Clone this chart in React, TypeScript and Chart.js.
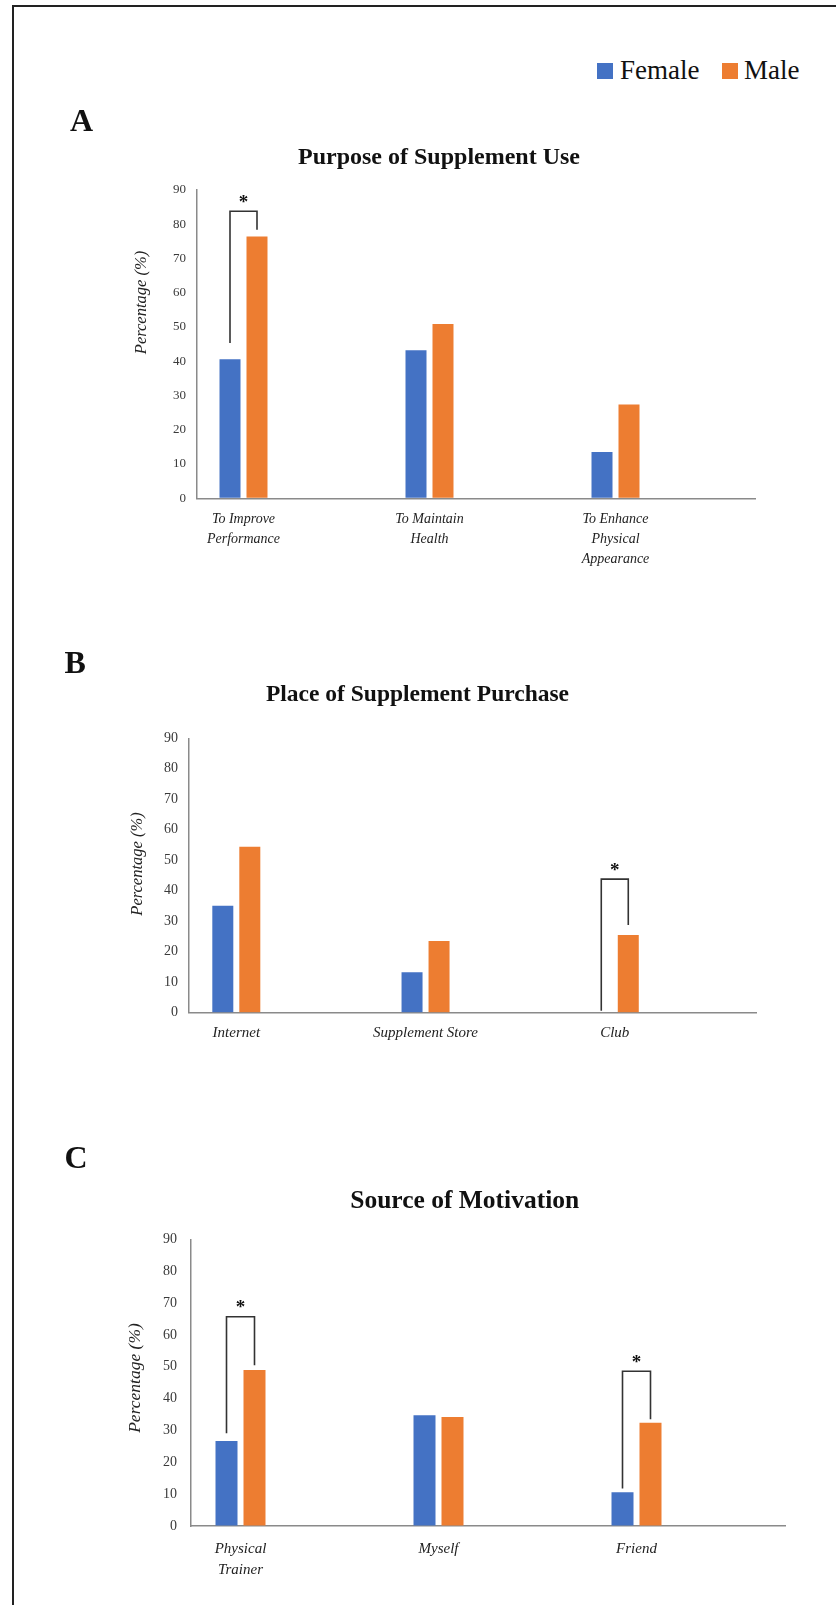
import React, { useEffect, useRef } from 'react';
import { Chart, registerables } from 'chart.js';

Chart.register(...registerables);

const seriesNames = ['Female', 'Male'];
const seriesColors = ['#4472C4', '#ED7D31'];

const purposeLabels: (string | string[])[] = [['To Improve', 'Performance'], ['To Maintain', 'Health'], ['To Enhance', 'Physical', 'Appearance']];
const purposeFemale = [40.6, 43.2, 13.5];
const purposeMale = [76.4, 50.9, 27.4];
const purposeSig = [{ index: 0, top: 83.8, femaleEnd: 45.3, maleEnd: 78.4 }];

const placeLabels: (string | string[])[] = ['Internet', 'Supplement Store', 'Club'];
const placeFemale = [35.1, 13.3, 0];
const placeMale = [54.4, 23.5, 25.5];
const placeSig = [{ index: 2, top: 43.8, femaleEnd: 0.6, maleEnd: 28.8 }];

const motivationLabels: (string | string[])[] = [['Physical', 'Trainer'], 'Myself', 'Friend'];
const motivationFemale = [26.7, 34.8, 10.6];
const motivationMale = [49.0, 34.2, 32.4];
const motivationSig = [
  { index: 0, top: 65.7, femaleEnd: 29.1, maleEnd: 50.5 },
  { index: 2, top: 48.6, femaleEnd: 11.8, maleEnd: 33.5 },
];

const yMin = 0;
const yMax = 90;
const yStep = 10;
const yAxisTitle = 'Percentage (%)';

const SERIF = '"Liberation Serif", "Times New Roman", serif';

type Sig = { index: number; top: number; femaleEnd: number; maleEnd: number };
type PanelProps = {
  top: number;
  height: number;
  labels: (string | string[])[];
  female: number[];
  male: number[];
  sig: Sig[];
  title: string;
  titleSize: number;
  titleX: number;
  titleY: number;
  yTitleX: number;
  yTitleY: number;
  yTitleSize: number;
  padTop: number;
  padRight: number;
  yWidth: number;
  xHeight: number;
  yTickSize: number;
  yTickPad: number;
  xTickSize: number;
  xTickPad: number;
  xLineHeight: number;
  catPct: number;
  barPct: number;
};

function Panel(p: PanelProps) {
  const ref = useRef<HTMLCanvasElement | null>(null);
  useEffect(() => {
    if (!ref.current) return;
    const decor = {
      id: 'decor',
      afterDatasetsDraw(chart: any) {
        const ctx = chart.ctx as CanvasRenderingContext2D;
        const ys = chart.scales.y;
        ctx.save();
        ctx.fillStyle = '#111';
        ctx.textAlign = 'center';
        ctx.textBaseline = 'alphabetic';
        ctx.font = `bold ${p.titleSize}px ${SERIF}`;
        ctx.fillText(p.title, p.titleX, p.titleY);

        ctx.save();
        ctx.translate(p.yTitleX, p.yTitleY);
        ctx.rotate(-Math.PI / 2);
        ctx.font = `italic ${p.yTitleSize}px ${SERIF}`;
        ctx.textBaseline = 'middle';
        ctx.fillStyle = '#222';
        ctx.fillText(yAxisTitle, 0, 0);
        ctx.restore();

        const m0 = chart.getDatasetMeta(0);
        const m1 = chart.getDatasetMeta(1);
        for (const s of p.sig) {
          const xl = m0.data[s.index].x;
          const xr = m1.data[s.index].x;
          const yt = ys.getPixelForValue(s.top);
          const yl = ys.getPixelForValue(s.femaleEnd);
          const yr = ys.getPixelForValue(s.maleEnd);
          ctx.strokeStyle = '#333';
          ctx.lineWidth = 1.6;
          ctx.beginPath();
          ctx.moveTo(xl, yl);
          ctx.lineTo(xl, yt);
          ctx.lineTo(xr, yt);
          ctx.lineTo(xr, yr);
          ctx.stroke();
          ctx.font = `bold 19px ${SERIF}`;
          ctx.fillStyle = '#111';
          ctx.textAlign = 'center';
          ctx.textBaseline = 'alphabetic';
          ctx.fillText('*', (xl + xr) / 2, yt - 3.5);
        }
        ctx.restore();
      },
    };

    const chart = new Chart(ref.current, {
      type: 'bar',
      data: {
        datasets: [
          {
            label: seriesNames[0],
            data: p.female.map((v, i) => ({ x: i, y: v })),
            backgroundColor: seriesColors[0],
            borderWidth: 0,
            categoryPercentage: p.catPct,
            barPercentage: p.barPct,
          },
          {
            label: seriesNames[1],
            data: p.male.map((v, i) => ({ x: i, y: v })),
            backgroundColor: seriesColors[1],
            borderWidth: 0,
            categoryPercentage: p.catPct,
            barPercentage: p.barPct,
          },
        ],
      },
      options: {
        animation: false,
        responsive: false,
        maintainAspectRatio: false,
        layout: { padding: { top: p.padTop, right: p.padRight, left: 0, bottom: 0 } },
        plugins: {
          legend: { display: false },
          tooltip: { enabled: false },
          title: { display: false },
        },
        scales: {
          x: {
            type: 'linear',
            min: -0.25,
            max: 2.75,
            bounds: 'data',
            offset: false,
            grid: { display: true, color: 'rgba(0,0,0,0)', drawTicks: false, offset: false },
            border: { display: true, color: '#8a8a8a', width: 1.5 },
            afterBuildTicks: (scale: any) => {
              scale.ticks = p.labels.map((_, i) => ({ value: i }));
            },
            afterFit: (scale: any) => {
              scale.height = p.xHeight;
            },
            ticks: {
              autoSkip: false,
              maxRotation: 0,
              minRotation: 0,
              padding: p.xTickPad,
              color: '#222',
              font: { family: SERIF, size: p.xTickSize, style: 'italic', lineHeight: p.xLineHeight },
              callback: (value: any) => p.labels[Math.round(Number(value))] as any,
            },
          },
          y: {
            type: 'linear',
            min: yMin,
            max: yMax,
            grid: { display: true, color: 'rgba(0,0,0,0)', drawTicks: false },
            border: { display: true, color: '#8a8a8a', width: 1.5 },
            afterFit: (scale: any) => {
              scale.width = p.yWidth;
            },
            ticks: {
              stepSize: yStep,
              padding: p.yTickPad,
              color: '#3a3a3a',
              font: { family: SERIF, size: p.yTickSize },
            },
          },
        },
      } as any,
      plugins: [decor],
    });
    return () => chart.destroy();
  }, []);
  return (
    <canvas
      ref={ref}
      width={836}
      height={p.height}
      style={{ position: 'absolute', left: 0, top: p.top, width: 836, height: p.height }}
    />
  );
}

const letterStyle: React.CSSProperties = {
  position: 'absolute',
  fontFamily: SERIF,
  fontWeight: 'bold',
  fontSize: 32,
  lineHeight: 1,
  color: '#111',
};

const legendText: React.CSSProperties = {
  position: 'absolute',
  fontFamily: SERIF,
  fontSize: 27,
  lineHeight: 1,
  color: '#111',
  top: 56.7,
  whiteSpace: 'nowrap',
};

export default function App() {
  return (
    <div style={{ position: 'absolute', left: 0, top: 0, width: 836, height: 1605, background: '#fff', overflow: 'hidden' }}>
      <div
        style={{
          position: 'absolute',
          left: 12,
          top: 5,
          width: 824,
          height: 1600,
          borderTop: '2px solid #222',
          borderLeft: '2px solid #222',
          boxSizing: 'border-box',
        }}
      />
      <Panel
        top={130}
        height={450}
        labels={purposeLabels}
        female={purposeFemale}
        male={purposeMale}
        sig={purposeSig}
        title="Purpose of Supplement Use"
        titleSize={24}
        titleX={439}
        titleY={34}
        yTitleX={141.7}
        yTitleY={172.5}
        yTitleSize={16.5}
        padTop={60}
        padRight={81}
        yWidth={197}
        xHeight={81.7}
        yTickSize={13}
        yTickPad={11}
        xTickSize={14}
        xTickPad={11}
        xLineHeight={1.43}
        catPct={0.2903}
        barPct={0.7778}
      />
      <Panel
        top={620}
        height={440}
        labels={placeLabels}
        female={placeFemale}
        male={placeMale}
        sig={placeSig}
        title="Place of Supplement Purchase"
        titleSize={23.5}
        titleX={417.5}
        titleY={80.5}
        yTitleX={137.3}
        yTitleY={244}
        yTitleSize={16.5}
        padTop={118.3}
        padRight={79.3}
        yWidth={189}
        xHeight={47.3}
        yTickSize={14}
        yTickPad={11}
        xTickSize={15}
        xTickPad={10}
        xLineHeight={1.4}
        catPct={0.2854}
        barPct={0.7778}
      />
      <Panel
        top={1160}
        height={445}
        labels={motivationLabels}
        female={motivationFemale}
        male={motivationMale}
        sig={motivationSig}
        title="Source of Motivation"
        titleSize={25.5}
        titleX={464.7}
        titleY={47.5}
        yTitleX={135}
        yTitleY={218}
        yTitleSize={17.5}
        padTop={79.3}
        padRight={51}
        yWidth={191}
        xHeight={79}
        yTickSize={14}
        yTickPad={14}
        xTickSize={15}
        xTickPad={12.5}
        xLineHeight={1.4}
        catPct={0.2828}
        barPct={0.7857}
      />
      <div style={{ ...letterStyle, left: 70, top: 104 }}>A</div>
      <div style={{ ...letterStyle, left: 64.5, top: 646 }}>B</div>
      <div style={{ ...letterStyle, left: 64.5, top: 1141 }}>C</div>
      <div style={{ position: 'absolute', left: 597, top: 63, width: 16, height: 16, background: seriesColors[0] }} />
      <div style={{ ...legendText, left: 620 }}>{seriesNames[0]}</div>
      <div style={{ position: 'absolute', left: 722, top: 63, width: 16, height: 16, background: seriesColors[1] }} />
      <div style={{ ...legendText, left: 744 }}>{seriesNames[1]}</div>
    </div>
  );
}
